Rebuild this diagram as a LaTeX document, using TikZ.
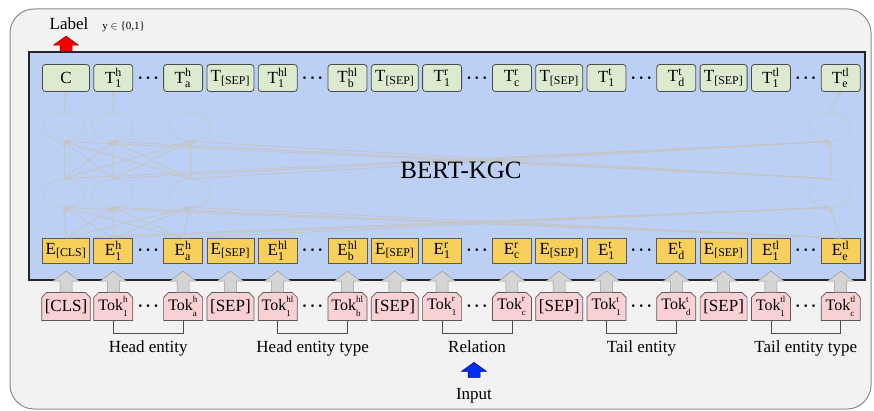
\documentclass[tikz,border=0pt]{standalone}
\usepackage{amsmath}
\usepackage{fontspec}
\setmainfont{Liberation Serif}
\usetikzlibrary{positioning,shapes.misc,shapes.geometric,arrows.meta,calc}

\definecolor{outerbg}{RGB}{242,242,242}
\definecolor{bertblue}{RGB}{188,208,246}
\definecolor{tgreen}{RGB}{220,235,207}
\definecolor{eyellow}{RGB}{246,208,90}
\definecolor{kpink}{RGB}{249,208,211}
\definecolor{netgray}{RGB}{196,196,194}
\definecolor{labred}{RGB}{245,0,0}
\definecolor{inblue}{RGB}{0,45,240}

% token with super- and subscript
\newcommand{\sbx}[3]{#1$^{\text{#2}}_{\text{#3}}$}
\newcommand{\sbs}[2]{#1$_{\text{#2}}$}
\newcommand{\tbx}[3]{{\fontsize{16}{18}\selectfont #1}$^{\raisebox{1.5pt}{\fontsize{9}{9}\selectfont #2}}_{\raisebox{-1.5pt}{\fontsize{9}{9}\selectfont #3}}$}
\newcommand{\mdots}{$\boldsymbol{\cdot}\mkern-1.5mu\boldsymbol{\cdot}\mkern-1.5mu\boldsymbol{\cdot}$}

\tikzset{
  every node/.style={font=\fontsize{17}{20}\selectfont},
  frame/.style={draw=black!45, fill=outerbg, line width=1pt, rounded corners=24pt},
  bertbox/.style={draw=black!85, fill=bertblue, line width=1.8pt},
  tbox/.style={draw=black!70, fill=tgreen, rounded corners=3pt, minimum width=39pt, minimum height=27pt, inner sep=1pt, line width=0.8pt},
  ebox/.style={draw=black!65, fill=eyellow, minimum width=39pt, minimum height=25pt, inner sep=1pt, line width=0.7pt},
  kbox/.style={draw=black!65, fill=kpink, chamfered rectangle, chamfered rectangle corners={north west,north east},
    chamfered rectangle xsep=2.5pt, chamfered rectangle ysep=2.5pt, minimum width=39pt, minimum height=28pt, inner sep=0.5pt, line width=0.7pt},
  wide/.style={minimum width=47pt},
  narrow/.style={},
  dotsn/.style={inner sep=0pt},
  neuron/.style={ellipse, draw=netgray!70!bertblue, line width=0.8pt, minimum width=42pt, minimum height=28pt, inner sep=0pt},
  netline/.style={draw=netgray, line width=0.8pt, -{Stealth[length=5pt,width=5pt]}},
  span/.style={draw=black!70, line width=0.8pt},
  spanlbl/.style={below=3pt},
  tokarr/.style={fill=black!17, draw=black!40, line width=0.5pt},
  tokup/.pic={\path[pic actions] (-6,0) -- (-6,-11) -- (-13,-11) -- (0,-21) -- (13,-11) -- (6,-11) -- (6,0) -- cycle;},
  flagup/.pic={\path[pic actions] (-6,0) -- (-6,-6) -- (-12.5,-6) -- (0,-15) -- (12.5,-6) -- (6,-6) -- (6,0) -- cycle;}
}

\begin{document}
\begin{tikzpicture}[x=1pt,y=-1pt]
    \useasboundingbox (0,0) rectangle (874,411);
    \draw[frame] (10,9) rectangle (871,409);
    \node[bertbox, minimum width=836pt, minimum height=228pt] (bert) at (447,166) {};

    % output row
    \node[tbox,wide] (tc) at (66,78) {C};
    \node[tbox] (th1) [right=3.5pt of tc] {\sbx{T}{h}{1}};
    \node[tbox] (tha) [right=30pt of th1] {\sbx{T}{h}{a}};
    \node[tbox,wide] (ts1) [right=3.5pt of tha] {\sbs{T}{[SEP]}};
    \node[tbox] (thl1) [right=3.5pt of ts1] {\sbx{T}{hl}{1}};
    \node[tbox] (thlb) [right=30pt of thl1] {\sbx{T}{hl}{b}};
    \node[tbox,wide] (ts2) [right=3.5pt of thlb] {\sbs{T}{[SEP]}};
    \node[tbox] (tr1) [right=3.5pt of ts2] {\sbx{T}{r}{1}};
    \node[tbox] (trc) [right=30pt of tr1] {\sbx{T}{r}{c}};
    \node[tbox,wide] (ts3) [right=3.5pt of trc] {\sbs{T}{[SEP]}};
    \node[tbox] (tt1) [right=3.5pt of ts3] {\sbx{T}{t}{1}};
    \node[tbox] (ttd) [right=30pt of tt1] {\sbx{T}{t}{d}};
    \node[tbox,wide] (ts4) [right=3.5pt of ttd] {\sbs{T}{[SEP]}};
    \node[tbox] (ttl1) [right=3.5pt of ts4] {\sbx{T}{tl}{1}};
    \node[tbox] (ttle) [right=30pt of ttl1] {\sbx{T}{tl}{e}};

    % embeddings and input tokens
    \foreach \n/\w/\el/\kl in {c/wide/{\sbs{E}{[CLS]}}/{[CLS]},
        h1/narrow/{\sbx{E}{h}{1}}/{\tbx{Tok}{h}{1}}, ha/narrow/{\sbx{E}{h}{a}}/{\tbx{Tok}{h}{a}},
        s1/wide/{\sbs{E}{[SEP]}}/{[SEP]},
        hl1/narrow/{\sbx{E}{hl}{1}}/{\tbx{Tok}{hl}{1}}, hlb/narrow/{\sbx{E}{hl}{b}}/{\tbx{Tok}{hl}{b}},
        s2/wide/{\sbs{E}{[SEP]}}/{[SEP]},
        r1/narrow/{\sbx{E}{r}{1}}/{\tbx{Tok}{r}{1}}, rc/narrow/{\sbx{E}{r}{c}}/{\tbx{Tok}{r}{c}},
        s3/wide/{\sbs{E}{[SEP]}}/{[SEP]},
        t1/narrow/{\sbx{E}{t}{1}}/{\tbx{Tok}{t}{1}}, td/narrow/{\sbx{E}{t}{d}}/{\tbx{Tok}{t}{d}},
        s4/wide/{\sbs{E}{[SEP]}}/{[SEP]},
        tl1/narrow/{\sbx{E}{tl}{1}}/{\tbx{Tok}{tl}{1}}, tle/narrow/{\sbx{E}{tl}{e}}/{\tbx{Tok}{tl}{c}}}{
        \node[ebox,\w] (e\n) [below=146pt of t\n] {\el};
        \node[kbox,\w] (k\n) [below=28.5pt of e\n] {\kl};
        \pic[tokarr] at (k\n.north) {tokup};
    }
    \foreach \a/\b in {h1/ha,hl1/hlb,r1/rc,t1/td,tl1/tle}
        \foreach \r in {t,e,k}
            \node[dotsn] (d\r\a) at ($(\r\a)!0.5!(\r\b)$) {\mdots};

    % faint encoder layers
    \foreach \x [count=\i] in {64,113,190,830} {
        \node[neuron] (l\i) at (\x,193) {};
        \node[neuron] (u\i) at (\x,127) {};
    }
    \foreach \s in {ec,eh1,eha,etle}
        \foreach \j in {1,...,4}
            \draw[netline] (\s.north) -- (l\j.south);
    \foreach \i in {1,...,4}
        \foreach \j in {1,...,4}
            \draw[netline] (l\i.north) -- (u\j.south);
    \draw[netline] (u1.north) -- (tc.south);
    \draw[netline] (u2.north) -- (th1.south);
    \draw[netline] (u4.north) -- (ttle.south);
    \node[font=\fontsize{25}{30}\selectfont] (kgc) at (461,170) {BERT-KGC};

    % input segments
    \draw[span] (kh1.south) -- ++(0,13) -| (kha.south) node[spanlbl,pos=0.25] (lhead) {Head entity};
    \draw[span] (khl1.south) -- ++(0,13) -| (khlb.south) node[spanlbl,pos=0.25] (lheadt) {Head entity type};
    \draw[span] (kr1.south) -- ++(0,13) -| (krc.south) node[spanlbl,pos=0.25] (lrel) {Relation};
    \draw[span] (kt1.south) -- ++(0,13) -| (ktd.south) node[spanlbl,pos=0.25] (ltail) {Tail entity};
    \draw[span] (ktl1.south) -- ++(0,13) -| (ktle.south) node[spanlbl,pos=0.25] (ltailt) {Tail entity type};

    \node (inp) at (474,396) {Input};
    \pic[fill=inblue, draw=blue!50!black, line width=0.5pt] at ([yshift=7.7pt]inp.north) {flagup};

    \node[anchor=base] (lbl) at (69,30) {Label};
    \node[anchor=base west, font=\fontsize{11}{13}\selectfont] (yset) at ([xshift=7pt]lbl.base east) {y $\in$ \{0,1\}};
    \pic[fill=labred, draw=red!60!black, line width=0.5pt] at (bert.north -| tc) {flagup};
\end{tikzpicture}
\end{document}
